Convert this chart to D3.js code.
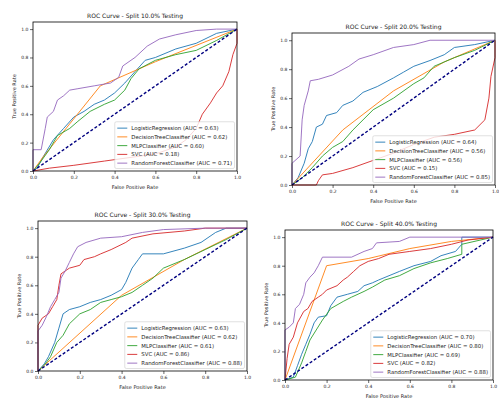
<!DOCTYPE html>
<html>
<head>
<meta charset="utf-8">
<script src="https://cdn.jsdelivr.net/npm/d3@7"></script>
<style>
  body { margin: 0; background: #fff; }
  text { font-family: "DejaVu Sans", sans-serif; }
</style>
</head>
<body>
<svg id="chart" width="499" height="398"></svg>
<script>
const models = ['LogisticRegression', 'DecisionTreeClassifier', 'MLPClassifier', 'SVC', 'RandomForestClassifier'];
const splits = ['10.0%', '20.0%', '30.0%', '40.0%'];
const ticks = [0, 0.2, 0.4, 0.6, 0.8, 1.0];

// AUC per model, one array per split
const auc10 = [0.63, 0.62, 0.60, 0.18, 0.71];
const auc20 = [0.64, 0.56, 0.56, 0.15, 0.85];
const auc30 = [0.63, 0.62, 0.61, 0.86, 0.88];
const auc40 = [0.70, 0.80, 0.69, 0.82, 0.88];

// ROC points [fpr, tpr], order: LR, DT, MLP, SVC, RF
const roc10 = [
  [[0,0],[0.02,0.02],[0.05,0.1],[0.1,0.22],[0.15,0.3],[0.2,0.38],[0.25,0.42],[0.3,0.47],[0.35,0.5],[0.4,0.55],[0.45,0.62],[0.5,0.7],[0.55,0.78],[0.6,0.8],[0.7,0.86],[0.8,0.9],[0.9,0.97],[1,1]],
  [[0,0],[0.05,0.1],[0.33,0.6],[0.6,0.77],[1,1]],
  [[0,0],[0.03,0.05],[0.08,0.15],[0.12,0.25],[0.18,0.3],[0.22,0.35],[0.28,0.42],[0.35,0.47],[0.4,0.5],[0.45,0.57],[0.48,0.65],[0.52,0.72],[0.6,0.78],[0.7,0.82],[0.8,0.85],[0.9,0.92],[1,1]],
  [[0,0],[0.08,0.02],[0.2,0.04],[0.35,0.07],[0.5,0.1],[0.6,0.12],[0.7,0.17],[0.75,0.22],[0.8,0.3],[0.83,0.4],[0.87,0.48],[0.9,0.55],[0.93,0.6],[0.96,0.7],[0.98,0.82],[1,0.9],[1,1]],
  [[0,0],[0,0.15],[0.04,0.15],[0.06,0.3],[0.07,0.38],[0.1,0.42],[0.12,0.5],[0.15,0.53],[0.18,0.57],[0.22,0.58],[0.3,0.6],[0.38,0.62],[0.42,0.66],[0.44,0.74],[0.5,0.8],[0.56,0.88],[0.62,0.93],[0.7,0.96],[0.8,0.99],[0.9,1],[1,1]]
];
const roc20 = [
  [[0,0],[0.03,0.05],[0.06,0.15],[0.08,0.25],[0.1,0.3],[0.12,0.4],[0.15,0.42],[0.17,0.48],[0.22,0.5],[0.25,0.55],[0.3,0.58],[0.35,0.64],[0.42,0.68],[0.5,0.74],[0.55,0.78],[0.6,0.82],[0.68,0.86],[0.75,0.9],[0.8,0.95],[0.9,0.97],[1,1]],
  [[0,0],[0.25,0.38],[0.5,0.65],[0.75,0.85],[1,1]],
  [[0,0],[0.05,0.05],[0.1,0.12],[0.15,0.2],[0.2,0.26],[0.25,0.3],[0.3,0.38],[0.35,0.45],[0.4,0.52],[0.5,0.6],[0.6,0.7],[0.65,0.74],[0.7,0.82],[0.8,0.88],[0.9,0.93],[1,1]],
  [[0,0],[0.12,0],[0.13,0.03],[0.15,0.07],[0.2,0.08],[0.3,0.12],[0.4,0.17],[0.5,0.22],[0.6,0.28],[0.7,0.33],[0.8,0.35],[0.9,0.38],[0.95,0.45],[0.97,0.6],[0.98,0.75],[1,0.88],[1,1]],
  [[0,0],[0,0.15],[0.04,0.2],[0.05,0.45],[0.06,0.55],[0.08,0.65],[0.09,0.72],[0.13,0.73],[0.2,0.76],[0.28,0.82],[0.33,0.87],[0.4,0.9],[0.5,0.95],[0.6,0.97],[0.68,1],[1,1]]
];
const roc30 = [
  [[0,0],[0.03,0.05],[0.05,0.1],[0.08,0.2],[0.1,0.3],[0.12,0.4],[0.15,0.43],[0.2,0.45],[0.25,0.48],[0.3,0.5],[0.35,0.53],[0.4,0.57],[0.42,0.62],[0.45,0.72],[0.48,0.78],[0.5,0.82],[0.6,0.82],[0.7,0.86],[0.78,0.9],[0.85,0.97],[0.9,1],[1,1]],
  [[0,0],[0.4,0.53],[0.7,0.78],[1,1]],
  [[0,0],[0.03,0.04],[0.06,0.1],[0.09,0.2],[0.12,0.25],[0.15,0.33],[0.2,0.4],[0.25,0.43],[0.3,0.48],[0.35,0.5],[0.4,0.52],[0.45,0.55],[0.5,0.6],[0.55,0.65],[0.6,0.72],[0.7,0.78],[0.8,0.85],[0.9,0.92],[1,1]],
  [[0,0],[0,0.32],[0.02,0.37],[0.05,0.4],[0.07,0.45],[0.09,0.5],[0.1,0.6],[0.11,0.68],[0.13,0.7],[0.15,0.72],[0.2,0.74],[0.22,0.78],[0.27,0.8],[0.3,0.82],[0.35,0.85],[0.42,0.9],[0.45,0.93],[0.55,0.96],[0.7,0.98],[0.8,1],[1,1]],
  [[0,0],[0,0.28],[0.02,0.32],[0.04,0.38],[0.06,0.45],[0.08,0.5],[0.1,0.55],[0.11,0.65],[0.13,0.7],[0.15,0.76],[0.17,0.82],[0.19,0.87],[0.23,0.9],[0.3,0.93],[0.4,0.94],[0.5,0.97],[0.6,0.99],[0.8,1],[1,1]]
];
const roc40 = [
  [[0,0],[0.04,0.02],[0.06,0.1],[0.08,0.18],[0.1,0.25],[0.12,0.32],[0.14,0.4],[0.16,0.44],[0.2,0.45],[0.22,0.52],[0.25,0.58],[0.3,0.6],[0.35,0.62],[0.38,0.66],[0.42,0.68],[0.45,0.7],[0.5,0.73],[0.55,0.76],[0.62,0.8],[0.7,0.83],[0.75,0.87],[0.82,0.9],[0.85,0.95],[0.85,1],[1,1]],
  [[0,0],[0.2,0.8],[0.4,0.85],[0.6,0.92],[0.8,0.97],[1,1]],
  [[0,0],[0.05,0.02],[0.08,0.12],[0.1,0.2],[0.12,0.28],[0.15,0.35],[0.18,0.42],[0.22,0.5],[0.28,0.55],[0.32,0.58],[0.38,0.62],[0.42,0.65],[0.48,0.7],[0.55,0.73],[0.62,0.78],[0.7,0.82],[0.78,0.85],[0.85,0.88],[0.85,0.95],[1,1]],
  [[0,0],[0.01,0.15],[0.02,0.25],[0.04,0.3],[0.06,0.4],[0.09,0.48],[0.11,0.5],[0.13,0.55],[0.16,0.58],[0.18,0.6],[0.2,0.63],[0.25,0.66],[0.28,0.7],[0.3,0.72],[0.33,0.76],[0.36,0.8],[0.4,0.83],[0.45,0.85],[0.5,0.88],[0.6,0.9],[0.7,0.92],[0.8,0.95],[0.88,0.98],[1,1]],
  [[0,0],[0,0.35],[0.02,0.37],[0.04,0.4],[0.05,0.5],[0.07,0.53],[0.09,0.6],[0.1,0.68],[0.12,0.72],[0.14,0.75],[0.16,0.8],[0.18,0.86],[0.25,0.86],[0.32,0.86],[0.38,0.9],[0.42,0.92],[0.44,0.96],[0.55,0.97],[0.6,1],[1,1]]
];

// panel boxes (pixels) – the four plots are not on an exact grid
const panels = [
  {left: 33, right: 237, top: 22, bottom: 171, roc: roc10, auc: auc10, split: splits[0]},
  {left: 292, right: 495, top: 33, bottom: 185, roc: roc20, auc: auc20, split: splits[1]},
  {left: 38, right: 247, top: 221, bottom: 371, roc: roc30, auc: auc30, split: splits[2]},
  {left: 285, right: 493, top: 230, bottom: 380, roc: roc40, auc: auc40, split: splits[3]}
];

const colors = d3.schemeCategory10;
const svg = d3.select('#chart');

panels.forEach(p => drawPanel(p));

function drawPanel(p) {
  const g = svg.append('g');

  const x = d3.scaleLinear().domain([0, 1]).range([p.left, p.right]);
  const y = d3.scaleLinear().domain([0, 1.05]).range([p.bottom, p.top]);

  // axes
  const xAxis = g.append('g')
    .attr('transform', 'translate(0,' + p.bottom + ')')
    .call(d3.axisBottom(x).tickValues(ticks).tickFormat(d3.format('.1f')).tickSize(3).tickPadding(1.5));
  const yAxis = g.append('g')
    .attr('transform', 'translate(' + p.left + ',0)')
    .call(d3.axisLeft(y).tickValues(ticks).tickFormat(d3.format('.1f')).tickSize(3).tickPadding(1.5));
  [xAxis, yAxis].forEach(a => {
    a.select('.domain').remove();
    a.selectAll('line').attr('stroke', '#000').attr('stroke-width', 0.6);
    a.selectAll('text').attr('font-size', 4.5).attr('fill', '#222')
      .attr('font-family', 'DejaVu Sans');
  });

  // curves
  const line = d3.line().x(d => x(d[0])).y(d => y(d[1]));
  p.roc.forEach((pts, i) => {
    g.append('path')
      .datum(pts)
      .attr('d', line)
      .attr('fill', 'none')
      .attr('stroke', colors[i])
      .attr('stroke-width', 0.9);
  });

  // chance line
  g.append('path')
    .datum([[0, 0], [1, 1]])
    .attr('d', line)
    .attr('fill', 'none')
    .attr('stroke', 'navy')
    .attr('stroke-width', 1.4)
    .attr('stroke-dasharray', '3,2');

  // frame
  g.append('rect')
    .attr('x', p.left).attr('y', p.top)
    .attr('width', p.right - p.left).attr('height', p.bottom - p.top)
    .attr('fill', 'none').attr('stroke', '#000').attr('stroke-width', 0.8);

  // title + labels
  g.append('text')
    .attr('x', (p.left + p.right) / 2).attr('y', p.top - 4)
    .attr('text-anchor', 'middle').attr('font-size', 6).attr('fill', '#222')
    .text('ROC Curve - Split ' + p.split + ' Testing');
  g.append('text')
    .attr('x', (p.left + p.right) / 2).attr('y', p.bottom + 18)
    .attr('text-anchor', 'middle').attr('font-size', 5).attr('fill', '#222')
    .text('False Positive Rate');
  g.append('text')
    .attr('transform', 'translate(' + (p.left - 17) + ',' + ((p.top + p.bottom) / 2) + ') rotate(-90)')
    .attr('text-anchor', 'middle').attr('font-size', 5).attr('fill', '#222')
    .text('True Positive Rate');

  // legend, lower right
  const fs = 5.4, rowH = 8.75, handle = 10, pad = 2.5;
  const leg = g.append('g');
  const box = leg.append('rect');
  const labels = models.map((m, i) => m + ' (AUC = ' + p.auc[i].toFixed(2) + ')');
  const texts = leg.selectAll('text.lab')
    .data(labels)
    .enter()
    .append('text')
    .attr('class', 'lab')
    .attr('font-size', fs)
    .attr('fill', '#222')
    .text(d => d);
  let maxW = 0;
  texts.each(function () { maxW = Math.max(maxW, this.getComputedTextLength()); });
  const w = pad + handle + 4 + maxW + pad;
  const h = pad + rowH * labels.length + pad - 2;
  const lx = p.right - 2.5 - w;
  const ly = p.bottom - 2.5 - h;
  box.attr('x', lx).attr('y', ly).attr('width', w).attr('height', h)
    .attr('rx', 1.5).attr('fill', '#fff').attr('fill-opacity', 0.8)
    .attr('stroke', '#ccc').attr('stroke-width', 0.6);
  labels.forEach((d, i) => {
    const cy = ly + pad + rowH * i + rowH / 2 - 0.5;
    leg.append('line')
      .attr('x1', lx + pad).attr('x2', lx + pad + handle)
      .attr('y1', cy).attr('y2', cy)
      .attr('stroke', colors[i]).attr('stroke-width', 0.9);
  });
  texts
    .attr('x', lx + pad + handle + 4)
    .attr('y', (d, i) => ly + pad + rowH * i + rowH / 2 + 1.4);
}
</script>
</body>
</html>
